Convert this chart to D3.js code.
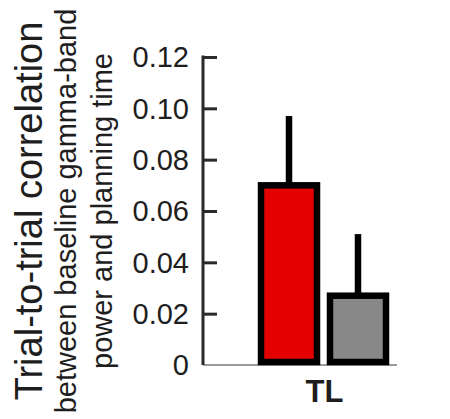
<!DOCTYPE html>
<html>
<head>
<meta charset="utf-8">
<script src="https://cdn.jsdelivr.net/npm/d3@7"></script>
<style>
  html, body { margin: 0; padding: 0; background: #fff; }
  svg { display: block; }
  text { font-family: "Liberation Sans", Arial, Helvetica, sans-serif; fill: #1e1e1e; }
</style>
</head>
<body>
<svg id="chart" width="450" height="419"></svg>
<script>
// ---- data ----
const groups = ["TL"];
const seriesNames = ["gamma", "control"];
const values = [0.070, 0.027];
const errorTops = [0.097, 0.051];
const barColors = ["#e30000", "#888888"];
const tickValues = [0, 0.02, 0.04, 0.06, 0.08, 0.10, 0.12];
const tickLabels = ["0", "0.02", "0.04", "0.06", "0.08", "0.10", "0.12"];
const titleLines = ["Trial-to-trial correlation", "between baseline gamma-band", "power and planning time"];

// ---- layout ----
const svg = d3.select("#chart");
const y = d3.scaleLinear().domain([0, 0.12]).range([365, 57]);
const x0 = d3.scaleBand().domain(groups).range([261, 386]).padding(0);
const x1 = d3.scaleBand().domain(seriesNames).range([0, x0.bandwidth()]).paddingInner(0.188).paddingOuter(0);

// baseline
svg.append("line")
  .attr("x1", 203).attr("x2", 397)
  .attr("y1", y(0)).attr("y2", y(0))
  .attr("stroke", "#7a7a7a").attr("stroke-width", 1.6);

// y axis
const axis = d3.axisLeft(y)
  .tickValues(tickValues)
  .tickFormat((d, i) => tickLabels[i])
  .tickSizeInner(-14)
  .tickSizeOuter(0)
  .tickPadding(14);

const gAxis = svg.append("g").attr("transform", "translate(203,0)").call(axis);
gAxis.select(".domain").attr("stroke", "#2a2a2a").attr("stroke-width", 3).attr("d", `M0,${y(0.12)-1.5}V${y(0)}`);
gAxis.selectAll(".tick line").attr("stroke", "#2a2a2a").attr("stroke-width", 3)
  .attr("display", d => d === 0 ? "none" : null);
gAxis.selectAll(".tick text")
  .style("font-family", '"Liberation Sans", Arial, sans-serif')
  .style("font-size", "29px")
  .attr("fill", "#1e1e1e")
  .attr("dy", "0.34em");

// bars
const g = svg.append("g").attr("transform", `translate(${x0("TL")},0)`);
seriesNames.forEach((s, i) => {
  const bx = x1(s);
  const bw = x1.bandwidth();
  g.append("line")
    .attr("x1", bx + bw / 2).attr("x2", bx + bw / 2)
    .attr("y1", y(values[i])).attr("y2", y(errorTops[i]))
    .attr("stroke", "#000").attr("stroke-width", 6.5);
  g.append("rect")
    .attr("x", bx).attr("width", bw)
    .attr("y", y(values[i])).attr("height", y(0) - 3 - y(values[i]))
    .attr("fill", barColors[i])
    .attr("stroke", "#000").attr("stroke-width", 6.5);
});

// x label
svg.append("text")
  .attr("x", x0("TL") + x0.bandwidth() / 2 + 1)
  .attr("y", 402)
  .attr("text-anchor", "middle")
  .style("font-size", "31px")
  .style("font-weight", "bold")
  .text(groups[0]);

// y title
const titleX = [42, 76, 112];
const titleSize = [38, 29, 29];
titleLines.forEach((t, i) => {
  svg.append("text")
    .attr("transform", `translate(${titleX[i]},211) rotate(-90)`)
    .attr("text-anchor", "middle")
    .style("font-size", titleSize[i] + "px")
    .text(t);
});
</script>
</body>
</html>
